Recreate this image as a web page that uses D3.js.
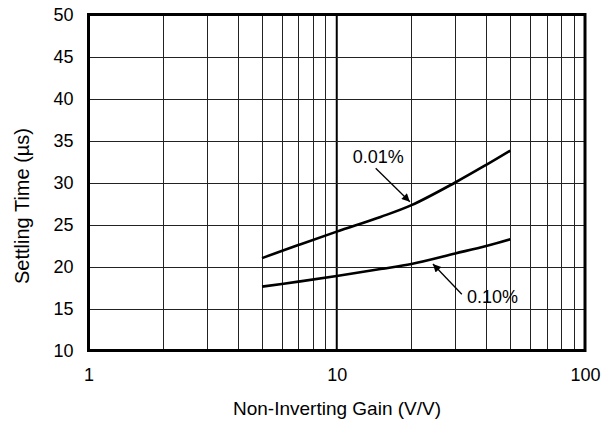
<!DOCTYPE html>
<html><head><meta charset="utf-8">
<script src="https://cdn.jsdelivr.net/npm/d3@7"></script>
<style>html,body{margin:0;padding:0;background:#fff;} text{font-family:"Liberation Sans",Arial,sans-serif;fill:#000;}</style>
</head><body>
<svg id="c" width="603" height="422"></svg>
<script>
// ---- data ----
const gain = [5, 7, 10, 15, 20, 30, 40, 50];
const settle001 = [21.0, 22.55, 24.15, 25.9, 27.3, 30.0, 32.1, 33.8];
const settle010 = [17.6, 18.2, 18.87, 19.7, 20.3, 21.55, 22.45, 23.25];
const xTicks = [1, 10, 100];
const yTicks = [10, 15, 20, 25, 30, 35, 40, 45, 50];
const labels = ["0.01%", "0.10%"];
// annotation anchors in data units: [textGain, textValue, fromGain, fromValue, toGain, toValue]
const notes = [[11.6, 32.3, 14.35, 31.7, 19.7, 27.7], [33.5, 15.65, 31.9, 16.7, 24.4, 20.3]];

const svg = d3.select("#c");
const m = {l: 88.5, t: 14.5, r: 585, b: 350.5};
const x = d3.scaleLog().domain([1, 100]).range([m.l, m.r]);
const y = d3.scaleLinear().domain([10, 50]).range([m.b, m.t]);

const defs = svg.append("defs");
defs.append("marker").attr("id", "ah").attr("viewBox", "0 0 10 10").attr("refX", 10).attr("refY", 5)
  .attr("markerWidth", 11).attr("markerHeight", 8).attr("markerUnits", "userSpaceOnUse").attr("orient", "auto")
  .append("path").attr("d", "M0,0L10,5L0,10Z").attr("fill", "#000");

// grid
const minor = [];
for (const d of [1, 10]) for (let k = 2; k <= 9; k++) minor.push(d * k);
const g = svg.append("g");
g.selectAll(".vx").data(minor).join("line")
  .attr("x1", d => Math.round(x(d)) + 0.5).attr("x2", d => Math.round(x(d)) + 0.5)
  .attr("y1", m.t).attr("y2", m.b).attr("stroke", "#222").attr("stroke-width", 1);
g.append("line").attr("x1", x(10)).attr("x2", x(10)).attr("y1", m.t).attr("y2", m.b)
  .attr("stroke", "#000").attr("stroke-width", 2);
g.selectAll(".hy").data(yTicks.slice(1, -1)).join("line")
  .attr("x1", m.l).attr("x2", m.r).attr("y1", d => Math.round(y(d)) + 0.5).attr("y2", d => Math.round(y(d)) + 0.5)
  .attr("stroke", "#222").attr("stroke-width", 1);
g.append("rect").attr("x", m.l).attr("y", m.t).attr("width", m.r - m.l).attr("height", m.b - m.t)
  .attr("fill", "none").attr("stroke", "#000").attr("stroke-width", 3);

// axes labels via d3 axes
const xa = svg.append("g").attr("transform", `translate(0,${m.b})`)
  .call(d3.axisBottom(x).tickValues(xTicks).tickFormat(d3.format("d")).tickSize(0).tickPadding(18));
const ya = svg.append("g").attr("transform", `translate(${m.l},0)`)
  .call(d3.axisLeft(y).tickValues(yTicks).tickSize(0).tickPadding(15));
[xa, ya].forEach(a => { a.select(".domain").remove(); a.selectAll("text").attr("font-size", 18).attr("font-family", "Liberation Sans, Arial, sans-serif").attr("fill", "#000"); });

svg.append("text").attr("x", 337).attr("y", 415).attr("text-anchor", "middle").attr("font-size", 19)
  .text("Non-Inverting Gain (V/V)");
svg.append("text").attr("transform", "translate(28.5,206) rotate(-90)").attr("text-anchor", "middle").attr("font-size", 20)
  .text("Settling Time (µs)");

// curves
const line = d3.line().x((d, i) => x(gain[i])).y(d => y(d)).curve(d3.curveCatmullRom.alpha(0.5));
[settle001, settle010].forEach(s => {
  svg.append("path").attr("d", line(s)).attr("fill", "none").attr("stroke", "#000").attr("stroke-width", 2.6);
});

// annotations
notes.forEach((n, i) => {
  svg.append("text").attr("x", x(n[0])).attr("y", y(n[1])).attr("font-size", 18).text(labels[i]);
  svg.append("line").attr("x1", x(n[2])).attr("y1", y(n[3])).attr("x2", x(n[4])).attr("y2", y(n[5]))
    .attr("stroke", "#000").attr("stroke-width", 1.3).attr("marker-end", "url(#ah)");
});
</script>
</body></html>
